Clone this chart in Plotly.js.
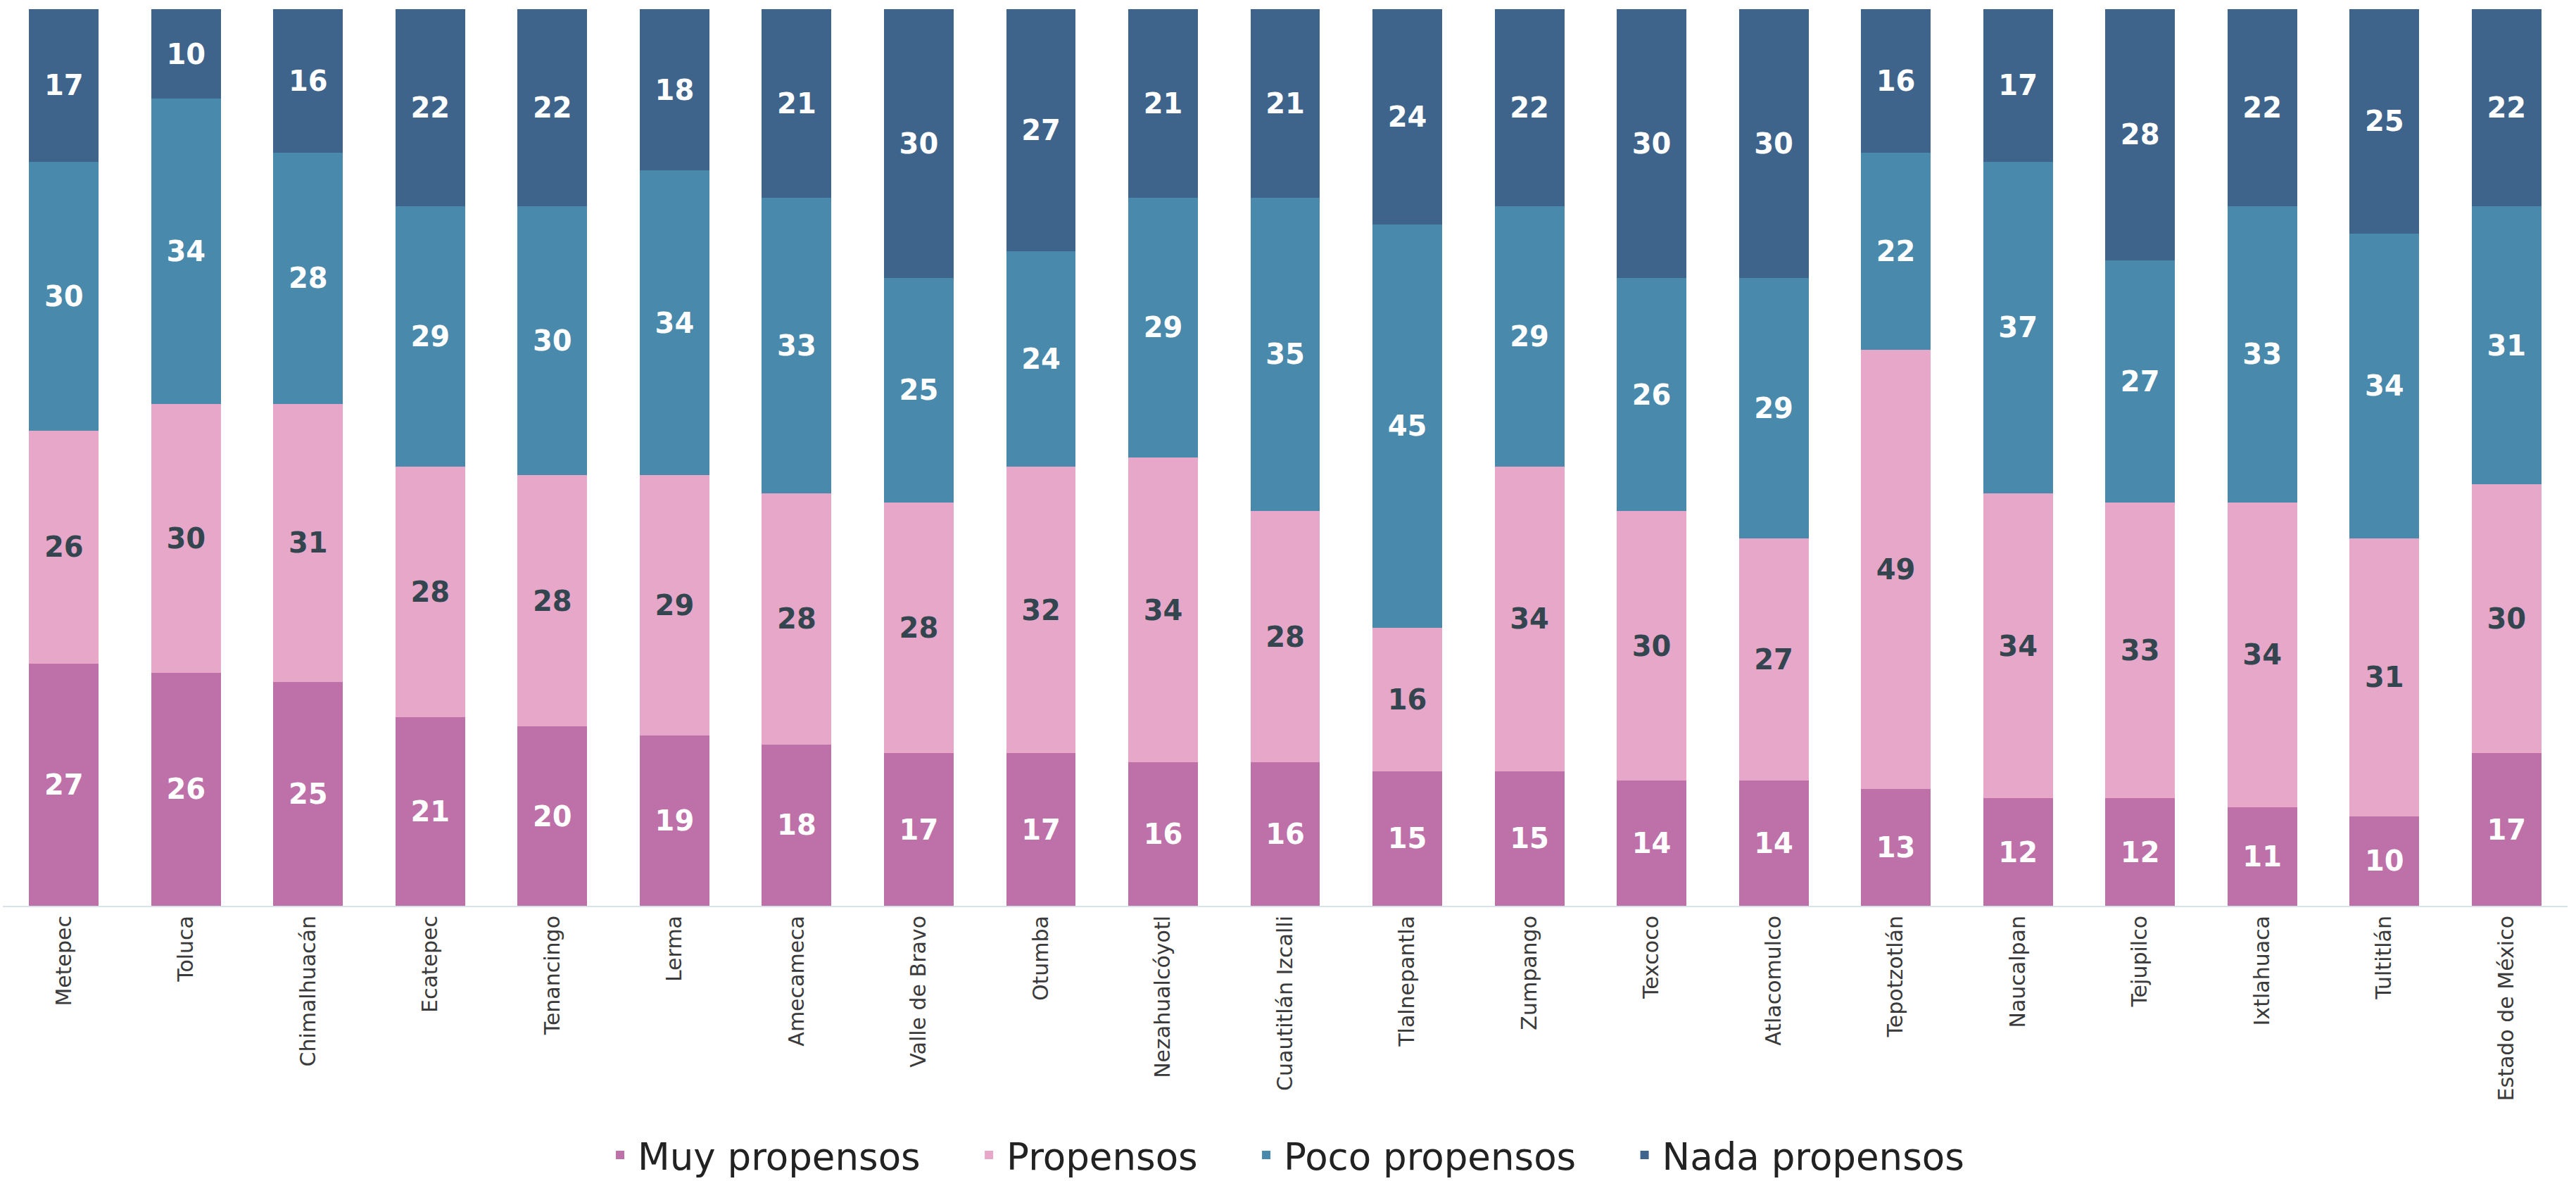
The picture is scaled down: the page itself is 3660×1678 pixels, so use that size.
<!DOCTYPE html>
<html>
<head>
<meta charset="utf-8">
<script src="https://cdn.plot.ly/plotly-3.0.1.min.js"></script>
<style>html,body{margin:0;padding:0;background:#fff;}#chart{width:3660px;height:1678px;}</style>
</head>
<body>
<div id="chart"></div>
<script>
const categories = ["Metepec","Toluca","Chimalhuacán","Ecatepec","Tenancingo","Lerma","Amecameca","Valle de Bravo","Otumba","Nezahualcóyotl","Cuautitlán Izcalli","Tlalnepantla","Zumpango","Texcoco","Atlacomulco","Tepotzotlán","Naucalpan","Tejupilco","Ixtlahuaca","Tultitlán","Estado de México"];
const muyPropensos  = [27,26,25,21,20,19,18,17,17,16,16,15,15,14,14,13,12,12,11,10,17];
const propensos     = [26,30,31,28,28,29,28,28,32,34,28,16,34,30,27,49,34,33,34,31,30];
const pocoPropensos = [30,34,28,29,30,34,33,25,24,29,35,45,29,26,29,22,37,27,33,34,31];
const nadaPropensos = [17,10,16,22,22,18,21,30,27,21,21,24,22,30,30,16,17,28,22,25,22];

const seriesNames = ["Muy propensos","Propensos","Poco propensos","Nada propensos"];
const seriesValues = [muyPropensos, propensos, pocoPropensos, nadaPropensos];
const colors = ["#BE70A8","#E7A7C9","#4889AC","#3E648C"];
const textColors = ["#FFFFFF","#33454F","#FFFFFF","#FFFFFF"];
const pad = "\u00A0\u00A0\u00A0\u00A0";

const traces = seriesValues.map((vals, i) => ({
  type: "bar",
  name: seriesNames[i] + (i < seriesNames.length - 1 ? pad : ""),
  x: categories,
  y: vals,
  marker: {color: colors[i], line: {width: 0}},
  text: vals.map(String),
  textposition: "inside",
  insidetextanchor: "middle",
  textangle: 0,
  constraintext: "none",
  textfont: {family: "DejaVu Sans", size: 40, color: textColors[i], weight: "bold"},
  hoverinfo: "none"
}));

const layout = {
  barmode: "stack",
  bargap: 0.43,
  width: 3660,
  height: 1678,
  margin: {l: 4, r: 12, t: 13, b: 391, autoexpand: false},
  paper_bgcolor: "#FFFFFF",
  plot_bgcolor: "#FFFFFF",
  xaxis: {
    type: "category",
    tickangle: -90,
    tickfont: {family: "DejaVu Sans", size: 30, color: "#3A3A3A"},
    showline: true,
    linecolor: "#D9E1EA",
    linewidth: 2,
    ticks: "",
    ticklen: 0,
    automargin: false,
    showgrid: false
  },
  yaxis: {
    range: [0, 100],
    visible: false,
    showgrid: false,
    zeroline: false,
    fixedrange: true
  },
  showlegend: true,
  legend: {
    orientation: "h",
    x: 0.5,
    xanchor: "center",
    y: -0.278,
    yanchor: "middle",
    itemwidth: 40,
    font: {family: "DejaVu Sans", size: 53, color: "#222222"},
    traceorder: "normal"
  }
};

Plotly.newPlot("chart", traces, layout, {displayModeBar: false, staticPlot: true});
</script>
</body>
</html>
